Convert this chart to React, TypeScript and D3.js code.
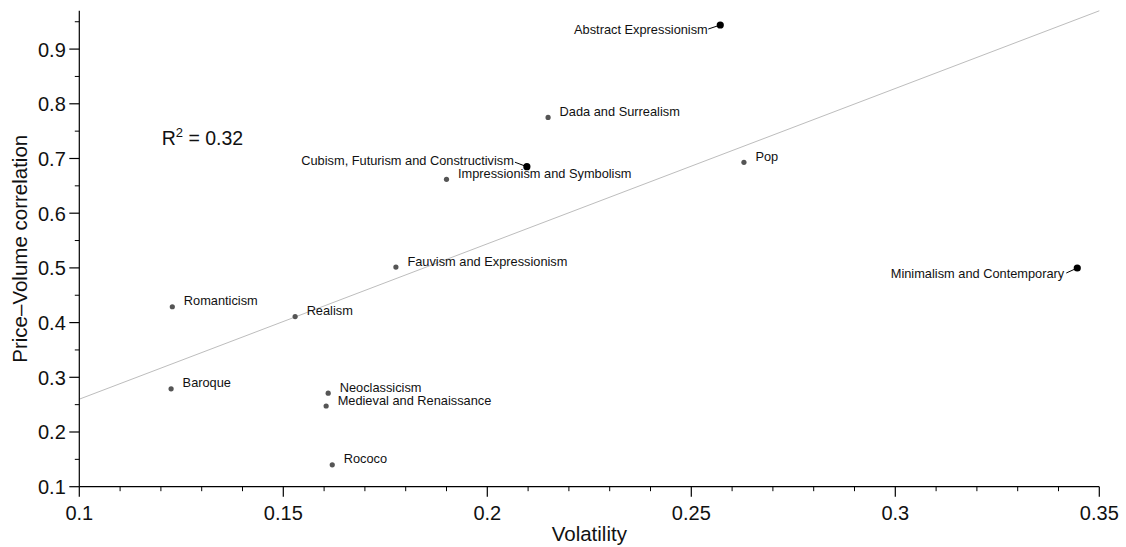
import * as d3 from 'd3'

// art movements: volatility vs price-volume correlation
const movements = [
  'Baroque',
  'Romanticism',
  'Realism',
  'Neoclassicism',
  'Medieval and Renaissance',
  'Rococo',
  'Fauvism and Expressionism',
  'Impressionism and Symbolism',
  'Cubism, Futurism and Constructivism',
  'Dada and Surrealism',
  'Abstract Expressionism',
  'Pop',
  'Minimalism and Contemporary'
]
const volatility = [0.1225, 0.1228, 0.1529, 0.161, 0.1605, 0.162, 0.1776, 0.19, 0.2097, 0.2149, 0.2571, 0.2629, 0.3446]
const pvCorrelation = [0.279, 0.429, 0.411, 0.271, 0.2475, 0.14, 0.5015, 0.662, 0.685, 0.775, 0.944, 0.693, 0.4998]
const highlighted = [
  'Cubism, Futurism and Constructivism',
  'Abstract Expressionism',
  'Minimalism and Contemporary'
]

const xTicks = [0.1, 0.15, 0.2, 0.25, 0.3, 0.35]
const yTicks = [0.1, 0.2, 0.3, 0.4, 0.5, 0.6, 0.7, 0.8, 0.9]

// linear fit
const fitSlope = 2.84
const fitIntercept = -0.024
const rSquared = '0.32'

const W = 1126
const H = 547
const FONT = '"Liberation Sans", Arial, Helvetica, sans-serif'

// placement of the left-hand labels with leader lines (relative to the dot)
const leftLabels: Record<string, { tx: number; ty: number; lx: number; ly: number }> = {
  'Cubism, Futurism and Constructivism': { tx: -13, ty: -1.5, lx: -12, ly: -4.5 },
  'Abstract Expressionism': { tx: -12.5, ty: 9, lx: -12, ly: 4 },
  'Minimalism and Contemporary': { tx: -13, ty: 10, lx: -11, ly: 5 }
}

export default function App() {
  const x = d3.scaleLinear().domain([0.1, 0.35]).range([79.3, 1099.3])
  const y = d3.scaleLinear().domain([0.1, 0.97]).range([486.7, 10.8])

  const xMinor = d3.range(0.1, 0.3501, 0.01).map(v => +v.toFixed(2)).filter(v => !xTicks.some(t => Math.abs(t - v) < 1e-9))
  const yMinor = d3.range(0.15, 0.96, 0.1).map(v => +v.toFixed(2))

  const points = movements.map((name, i) => ({
    name,
    vx: volatility[i],
    vy: pvCorrelation[i],
    big: highlighted.includes(name)
  }))

  const fitLine = d3.line<number>()
    .x(d => x(d))
    .y(d => y(fitIntercept + fitSlope * d))

  const fmt = (v: number) => String(+v.toFixed(2))
  const [x0, x1] = x.range()
  const [yb, yt] = y.range()

  return (
    <svg width={W} height={H} style={{ position: 'absolute', left: 0, top: 0, background: '#fff' }} fontFamily={FONT}>
      {/* regression line */}
      <path d={fitLine([0.1, 0.35]) || ''} fill="none" stroke="#bdbdbd" strokeWidth={1} />

      {/* axes */}
      <line x1={x0} x2={x1} y1={yb} y2={yb} stroke="#000" strokeWidth={1.2} />
      <line x1={x0} x2={x0} y1={yb} y2={yt} stroke="#000" strokeWidth={1.2} />

      {xTicks.map(t => (
        <g key={'xt' + t}>
          <line x1={x(t)} x2={x(t)} y1={yb} y2={yb + 10} stroke="#000" strokeWidth={1.2} />
          <text x={x(t)} y={yb + 33.5} textAnchor="middle" fontSize={20} fill="#111">{fmt(t)}</text>
        </g>
      ))}
      {xMinor.map(t => (
        <line key={'xm' + t} x1={x(t)} x2={x(t)} y1={yb} y2={yb + 4.5} stroke="#000" strokeWidth={1} />
      ))}

      {yTicks.map(t => (
        <g key={'yt' + t}>
          <line x1={x0 - 10} x2={x0} y1={y(t)} y2={y(t)} stroke="#000" strokeWidth={1.2} />
          <text x={x0 - 13.5} y={y(t) + 7.5} textAnchor="end" fontSize={20} fill="#111">{fmt(t)}</text>
        </g>
      ))}
      {yMinor.map(t => (
        <line key={'ym' + t} x1={x0 - 4.5} x2={x0} y1={y(t)} y2={y(t)} stroke="#000" strokeWidth={1} />
      ))}

      {/* axis titles */}
      <text x={(x0 + x1) / 2} y={541} textAnchor="middle" fontSize={20.5} fill="#111">Volatility</text>
      <text transform={`translate(26.5,${(yb + yt) / 2}) rotate(-90)`} textAnchor="middle" fontSize={20.5} fill="#111">
        Price–Volume correlation
      </text>

      {/* R squared annotation */}
      <text x={x(0.1202)} y={y(0.7247)} fontSize={19.5} fill="#111">
        R<tspan dy={-8} fontSize={13}>2</tspan><tspan dy={8}> = {rSquared}</tspan>
      </text>

      {/* points and labels */}
      {points.map(p => {
        const px = x(p.vx)
        const py = y(p.vy)
        const ll = leftLabels[p.name]
        return (
          <g key={p.name}>
            {ll && (
              <line x1={px + ll.lx} y1={py + ll.ly} x2={px} y2={py} stroke="#000" strokeWidth={1} />
            )}
            <circle cx={px} cy={py} r={p.big ? 3.6 : 2.6} fill={p.big ? '#000' : '#555'} />
            {ll ? (
              <text x={px + ll.tx} y={py + ll.ty} textAnchor="end" fontSize={12.8} fill="#111">{p.name}</text>
            ) : (
              <text x={px + 11.5} y={py - 1.5} fontSize={12.8} fill="#111">{p.name}</text>
            )}
          </g>
        )
      })}
    </svg>
  )
}
